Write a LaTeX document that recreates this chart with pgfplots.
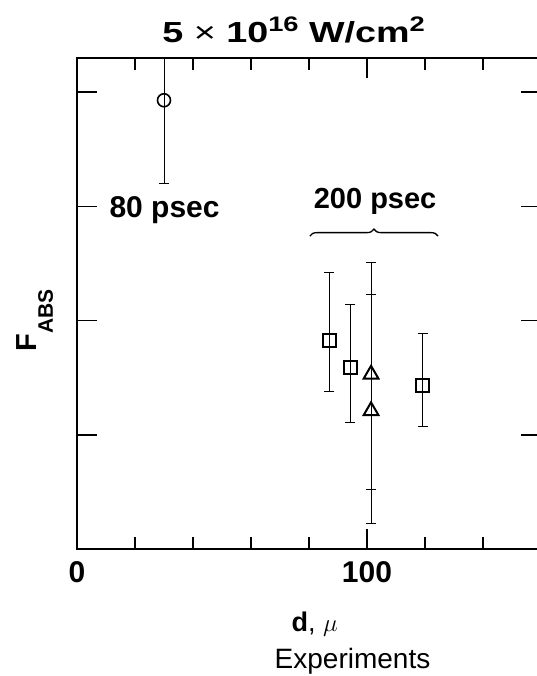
\documentclass[border=0pt]{standalone}
\usepackage{fontspec}
\setmainfont{Liberation Sans}
\usepackage{pgfplots}
\pgfplotsset{compat=1.18}
\usetikzlibrary{decorations.pathreplacing,calc}

\begin{document}
\begin{tikzpicture}
\begin{axis}[
  name=ax,
  at={(77pt,127pt)}, anchor=south west,
  width=464pt, height=491pt, scale only axis,
  xmin=0, xmax=160, ymin=0, ymax=0.43,
  xtick={0,100}, xticklabels={0,100},
  minor xtick={20,40,60,80,120,140},
  ytick={0.1,0.2,0.3,0.4}, yticklabels={},
  xtick pos=left, ytick pos=both,
  tick align=inside,
  major tick length=20pt, minor tick length=12pt,
  every tick/.style={black, line width=1.6pt},
  axis line style={line width=2pt},
  xticklabel style={font=\fontsize{30}{34}\selectfont\bfseries, anchor=base, yshift=-34pt},
  clip=false,
  error bars/y dir=both, error bars/y explicit,
  error bars/error bar style={line width=1pt, black},
  error bars/error mark options={rotate=90, mark size=5pt, line width=1pt, black},
]
% 80 psec
\addplot[only marks, mark=o, mark size=6.5pt, mark options={line width=1.6pt, fill=white}]
  coordinates {(30,0.393) += (0,0.037) -= (0,0.073)};
% 200 psec, squares
\addplot[only marks, mark=square, mark size=6.5pt, mark options={line width=2pt, fill=white}]
  coordinates {
    (87.0,0.183) += (0,0.059) -= (0,0.045)
    (94.2,0.159) += (0,0.055) -= (0,0.048)
    (119.2,0.143) += (0,0.046) -= (0,0.036)
  };
% 200 psec, triangles
\addplot[only marks, mark=triangle, mark size=8.5pt, mark options={line width=2pt, fill=white}]
  coordinates {
    (101.4,0.153) += (0,0.098) -= (0,0.101)
    (101.4,0.121) += (0,0.102) -= (0,0.099)
  };

\node[anchor=base, font=\fontsize{29}{34}\selectfont\bfseries, xscale=1.3] at (axis cs:74.7,0.4438)
  {5 {\mdseries ×} 10\raisebox{11pt}{\fontsize{21}{21}\selectfont 16} W/cm\raisebox{11pt}{\fontsize{21}{21}\selectfont 2}};
\node[anchor=base west, font=\fontsize{30}{34}\selectfont\bfseries] at (axis cs:10.0,0.290) {80 psec};
\node[anchor=base, font=\fontsize{29}{34}\selectfont\bfseries] at (axis cs:102.8,0.298) {200 psec};
\draw[line width=1.3pt, decorate, decoration={brace, amplitude=7pt}]
  (axis cs:80.3,0.274) -- (axis cs:124.5,0.274);
\node[anchor=base, font=\fontsize{27}{30}\selectfont] at (axis cs:82,-0.0726) {\textbf{d}, $\mu$};
\node[anchor=base, font=\fontsize{28}{30}\selectfont] at (axis cs:95,-0.105) {Experiments};
\node[rotate=90, anchor=base west] at (axis cs:-13.8,0.170)
  {\fontsize{29}{30}\selectfont\bfseries F\raisebox{-16pt}{\fontsize{21}{21}\selectfont ABS}};
\end{axis}
% ticks along the top edge (20 units = 58pt)
\foreach \k in {1,2,3,4,6,7}
  \draw[line width=1.6pt] ($(ax.north west)+(\k*58pt,0)$) -- ++(0,-12pt);
\draw[line width=1.6pt] ($(ax.north west)+(290pt,0)$) -- ++(0,-20pt);
\pgfresetboundingbox
\useasboundingbox (0,0) rectangle (536pt,676pt);
\end{tikzpicture}
\end{document}
